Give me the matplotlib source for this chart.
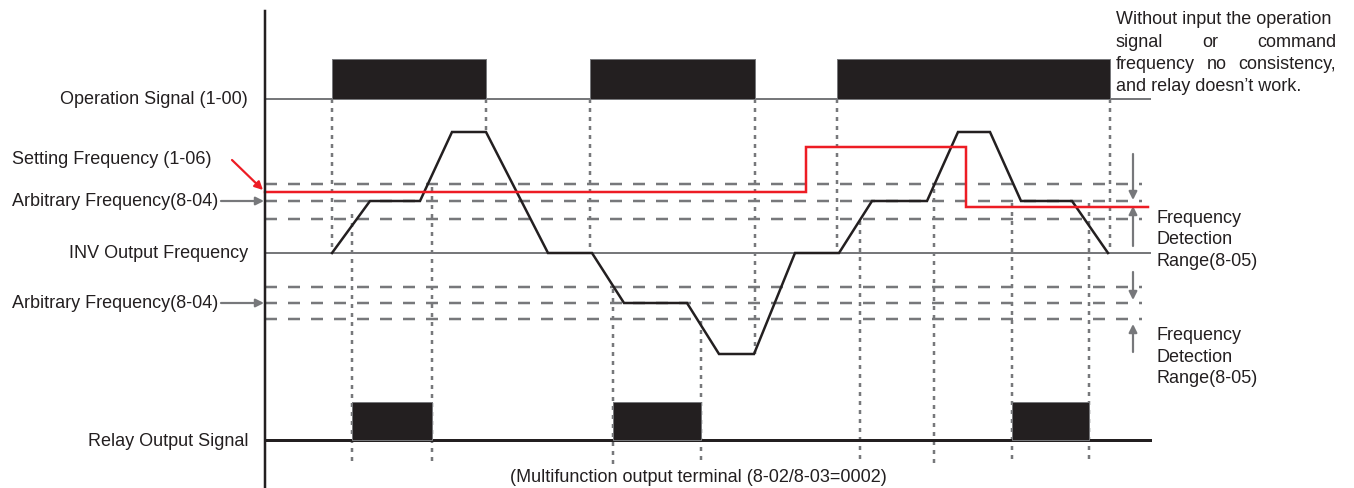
import matplotlib
matplotlib.use('Agg')
import matplotlib.pyplot as plt

plt.rcParams['font.family'] = ['Liberation Sans', 'DejaVu Sans']

# operation signal (1-00) edges
op_on = [332, 590, 837]
op_off = [486, 755, 1110]

# INV output frequency breakpoints (time, level)
freq_t = [332, 370, 420, 452, 486, 548, 592, 624, 687, 719, 754, 795, 839, 872, 927, 958, 990, 1021, 1072, 1108]
freq_y = [254, 202, 202, 133, 133, 254, 254, 304, 304, 355, 355, 254, 254, 202, 202, 133, 133, 202, 202, 254]

# setting frequency (1-06)
set_t = [265, 806, 806, 966, 966, 1148]
set_y = [193, 193, 148, 148, 208, 208]

# arbitrary frequency (8-04) +/- detection range (8-05)
upper_band = [185, 202, 220]
lower_band = [288, 304, 320]

# relay output signal edges
relay_on = [352, 613, 1012]
relay_off = [432, 701, 1089]

# guide lines: x, from, to
guide_x = [332, 486, 590, 755, 837, 1110, 352, 432, 613, 701, 860, 934, 1012, 1089]
guide_y0 = [100, 100, 100, 100, 100, 100, 215, 188, 290, 322, 222, 190, 204, 204]
guide_y1 = [254, 133, 254, 355, 254, 254, 465, 465, 465, 465, 465, 465, 465, 465]

note_lines = ['Without input the operation', 'signal or command',
              'frequency no consistency,', 'and relay doesn\u2019t work.']

gray = '#77787b'
dark = '#231f20'
red = '#ed1c24'
fs = 13
px = 0.72

fig = plt.figure(figsize=(13.54, 4.89), dpi=100)
ax = fig.add_axes([0, 0, 1, 1])
ax.set_xlim(0, 1354)
ax.set_ylim(489, 0)
ax.axis('off')

# vertical axis
ax.plot([265, 265], [12, 489], color=dark, lw=2.5 * px, zorder=5)

# dotted guides
for x, y0, y1 in zip(guide_x, guide_y0, guide_y1):
    ax.plot([x, x], [y0, y1], color=gray, lw=2.5 * px, ls=(0, (1.6, 2.0)), zorder=1)

# detection bands
for y in upper_band + lower_band:
    ax.plot([265, 1142], [y, y], color=gray, lw=2.5 * px, ls=(0, (4.8, 4.4)), zorder=2)

# operation signal
ax.plot([265, 1150], [100, 100], color=gray, lw=2 * px, zorder=2)
for a, b in zip(op_on, op_off):
    ax.fill_between([a, b], 60, 100, color=dark, lw=1 * px, edgecolor=gray, zorder=3)

# INV output frequency
ax.plot([265, 1150], [254, 254], color=gray, lw=2 * px, zorder=2)
ax.plot(freq_t, freq_y, color=dark, lw=2.5 * px, zorder=4, solid_joinstyle='miter')

# setting frequency
ax.plot(set_t, set_y, color=red, lw=2.5 * px, zorder=4, solid_joinstyle='miter')

# relay output
ax.plot([265, 1150], [441, 441], color=dark, lw=3 * px, zorder=2)
for a, b in zip(relay_on, relay_off):
    ax.fill_between([a, b], 403, 441, color=dark, lw=1 * px, edgecolor=gray, zorder=3)

# labels on the left
kw = dict(fontsize=fs, color=dark, va='center')
ax.text(248, 100, 'Operation Signal (1-00)', ha='right', **kw)
ax.text(12, 159, 'Setting Frequency (1-06)', ha='left', **kw)
ax.text(12, 202, 'Arbitrary Frequency(8-04)', ha='left', **kw)
ax.text(248, 254, 'INV Output Frequency', ha='right', **kw)
ax.text(12, 304, 'Arbitrary Frequency(8-04)', ha='left', **kw)
ax.text(248, 441, 'Relay Output Signal', ha='right', **kw)
ax.text(510, 478, '(Multifunction output terminal (8-02/8-03=0002)', ha='left', **kw)

arr = dict(arrowstyle='-|>', color=gray, lw=2.2 * px, mutation_scale=12, shrinkA=0, shrinkB=0)
ax.annotate('', xy=(264, 202), xytext=(221, 202), arrowprops=arr)
ax.annotate('', xy=(264, 304), xytext=(221, 304), arrowprops=arr)
ax.annotate('', xy=(263, 191), xytext=(232, 161),
            arrowprops=dict(arr, color=red))

# detection range arrows on the right
ax.annotate('', xy=(1133, 201), xytext=(1133, 155), arrowprops=arr)
ax.annotate('', xy=(1133, 207), xytext=(1133, 247), arrowprops=arr)
ax.annotate('', xy=(1133, 301), xytext=(1133, 273), arrowprops=arr)
ax.annotate('', xy=(1133, 325), xytext=(1133, 353), arrowprops=arr)

for y0 in [240, 357]:
    ax.text(1157, y0, 'Frequency\nDetection\nRange(8-05)', ha='left', va='center',
            fontsize=fs, color=dark, linespacing=1.32)

# justified note at top right (middle lines spread to full width)
r = fig.canvas.get_renderer()
x0, x1 = 1116, 1336
for i, line in enumerate(note_lines):
    y = 20 + i * 22.3
    words = line.split()
    if i in (0, len(note_lines) - 1):
        ax.text(x0, y, line, ha='left', **kw)
        continue
    ts = [ax.text(0, y, w, ha='left', **kw) for w in words]
    widths = [t.get_window_extent(r).width for t in ts]
    gap = (x1 - x0 - sum(widths)) / (len(words) - 1)
    x = x0
    for t, w in zip(ts, widths):
        t.set_x(x)
        x += w + gap

fig.savefig('out.png', dpi=100)
